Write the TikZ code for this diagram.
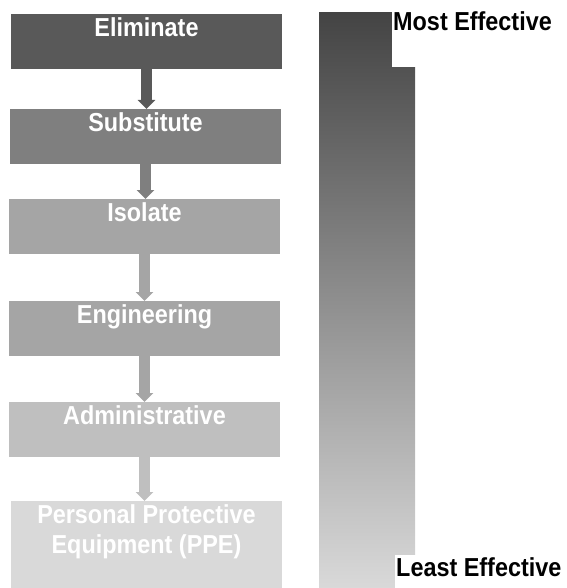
\documentclass[tikz,border=0pt]{standalone}
\usepackage{fontspec}
\setmainfont{Liberation Sans}[FakeStretch=0.9]
\usepackage{tikz}
\usetikzlibrary{arrows.meta}
\definecolor{elimgray}{HTML}{595959}
\definecolor{substgray}{HTML}{7F7F7F}
\definecolor{isolgray}{HTML}{A5A5A5}
\definecolor{admingray}{HTML}{BFBFBF}
\definecolor{ppegray}{HTML}{D9D9D9}
\definecolor{bartop}{HTML}{444444}
\tikzset{
font={\fontsize{26pt}{30pt}\selectfont\bfseries},
hazbox/.style={minimum width=271pt, inner xsep=0pt, inner ysep=2pt,
  text height=20pt, text depth=31pt, text=white, anchor=north},
flowarrow/.style={line width=11pt, -{Triangle[width=17pt,length=9pt]}},
effect/.style={fill=white, inner xsep=1pt, inner ysep=0pt, anchor=north west}
}

\begin{document}
\begin{tikzpicture}[x=1pt, y=-1pt]
    \useasboundingbox (0, 0) rectangle (566, 588);
    % Hierarchy boxes
    \node [hazbox, fill=elimgray] (elim) at (146.5, 14) {Eliminate};
    \node [hazbox, fill=substgray] (subst) at (145.5, 109) {Substitute};
    \node [hazbox, fill=isolgray] (isol) at (144.5, 199) {Isolate};
    \node [hazbox, fill=isolgray] (eng) at (144.5, 301) {Engineering};
    \node [hazbox, fill=admingray] (admin) at (144.5, 402) {Administrative};
    % PPE box, two lines
    \node [hazbox, fill=ppegray, text depth=65pt] (ppe) at (146.5, 501)
      {\begin{tabular}[t]{@{}c@{}}Personal Protective\\Equipment (PPE)\end{tabular}};

    % Arrows between boxes
    \draw [flowarrow, elimgray] (elim.south) -- (elim.south |- subst.north);
    \draw [flowarrow, substgray] (subst.south) -- (subst.south |- isol.north);
    \draw [flowarrow, isolgray] (isol.south) -- (eng.north);
    \draw [flowarrow, isolgray] (eng.south) -- (admin.north);
    \draw [flowarrow, admingray] (admin.south) -- (admin.south |- ppe.north);

    % Effectiveness bar
    \shade [top color=bartop, bottom color=ppegray] (319, 13) rectangle (415, 588);
    % Most effective label
    \node [effect, text height=20pt, text depth=37pt] (most) at (392, 10) {Most Effective};
    % Least effective label
    \node [effect, text height=21pt, text depth=12pt] (least) at (395, 555) {Least Effective};
\end{tikzpicture}
\end{document}
